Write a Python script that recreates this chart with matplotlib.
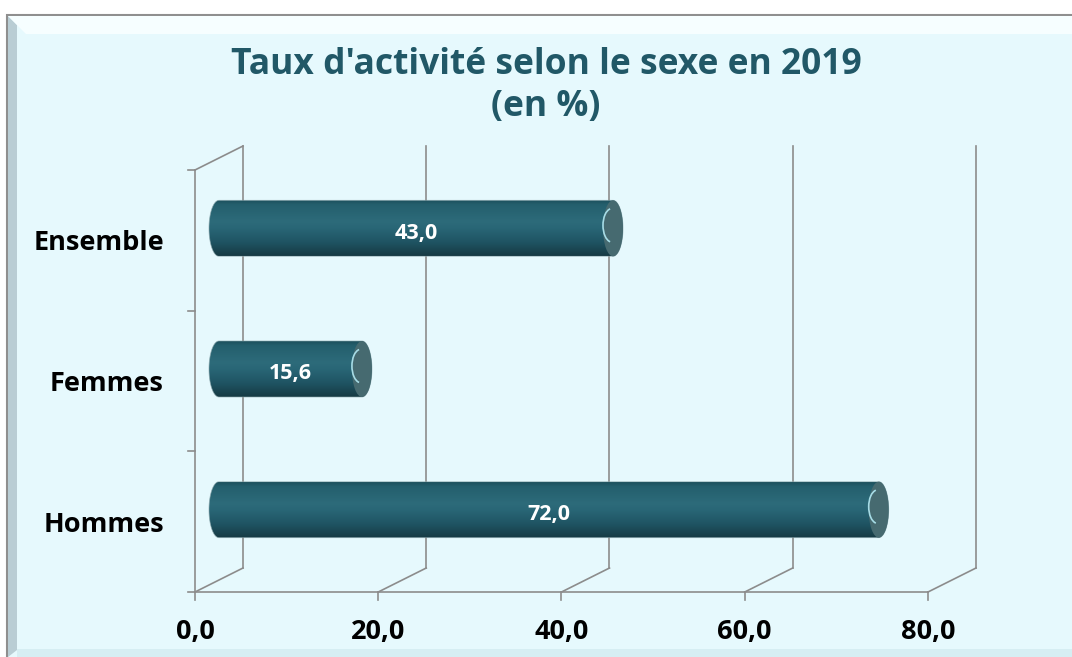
import numpy as np
import matplotlib.pyplot as plt
from matplotlib.patches import Rectangle, Ellipse, PathPatch, Arc, Polygon
from matplotlib.path import Path
from matplotlib.colors import LinearSegmentedColormap

categories = ["Hommes", "Femmes", "Ensemble"]
values = [72.0, 15.6, 43.0]
value_labels = ["72,0", "15,6", "43,0"]
x_ticks = [0, 20, 40, 60, 80]
x_tick_labels = ["0,0", "20,0", "40,0", "60,0", "80,0"]
title = "Taux d'activité selon le sexe en 2019\n(en %)"

plt.rcParams["font.family"] = ["Open Sans", "DejaVu Sans"]

W, H = 1072, 657
fig = plt.figure(figsize=(W / 100, H / 100), dpi=100)

# frame / background in pixel coords
bg = fig.add_axes([0, 0, 1, 1])
bg.set_xlim(0, W)
bg.set_ylim(H, 0)
bg.axis("off")
bg.add_patch(Rectangle((7, 15), W, H, facecolor="#e6f9fd", edgecolor="#8f8f8f", lw=1.5))
bg.add_patch(Polygon([[8, 16], [17, 25], [17, 650], [8, 657]], facecolor="#b9cdd4", lw=0))
bg.add_patch(Polygon([[8, 16], [W, 16], [W, 34], [26, 34]], facecolor="#f6feff", lw=0))
bg.add_patch(Rectangle((17, 649), W, 8, facecolor="#d6eef3", lw=0))

# plot axes: x in value units, y in category units (front plane)
sx = 733 / 80.0   # px per value unit
sy = 140.67       # px per category unit
left, right, bottom, top = 195, 983, 592, 135
ax = fig.add_axes([left / W, (H - bottom) / H, (right - left) / W, (bottom - top) / H])
ax.axis("off")
xmax = (right - left) / sx
ymax = (bottom - top) / sy

dx = 48 / sx
dy = 24 / sy
grid_c = "#8c8c8c"
lw = 1.2

# floor and walls
ax.plot([0, 80], [0, 0], color=grid_c, lw=lw, clip_on=False)
ax.plot([0, 0], [0, 3], color=grid_c, lw=lw, clip_on=False)
ax.plot([0, dx], [3, 3 + dy], color=grid_c, lw=lw, clip_on=False)
for v in x_ticks:
    ax.plot([v, v + dx], [0, dy], color=grid_c, lw=lw, clip_on=False)
    ax.plot([v + dx, v + dx], [dy, 3 + dy], color=grid_c, lw=lw, clip_on=False)
    ax.plot([v, v], [0, -8 / sy], color=grid_c, lw=lw, clip_on=False)
for k in range(4):
    ax.plot([-7 / sx, 0], [k, k], color=grid_c, lw=lw, clip_on=False)

# tick labels
for v, lab in zip(x_ticks, x_tick_labels):
    ax.text(v, -40 / sy, lab, ha="center", va="center", fontsize=19.5,
            fontweight="bold", color="black")
for i, cat in enumerate(categories):
    ax.text(-31 / sx, i + 0.5 - 3 / sy, cat, ha="right", va="center", fontsize=19.5,
            fontweight="bold", color="black")

# cylinder bars
cmap = LinearSegmentedColormap.from_list(
    "cyl", [(0, "#1c4f5c"), (0.08, "#245f6d"), (0.38, "#2d6b7a"),
            (0.5, "#296676"), (0.75, "#1f5463"), (1.0, "#163a43")])
grad = np.linspace(0, 1, 256).reshape(-1, 1)
rx = 10 / sx
ry = 28 / sy
for i, (v, lab) in enumerate(zip(values, value_labels)):
    yc = i + 0.5 + dy / 2
    x0 = dx / 2
    x1 = v + dx / 2
    t = np.linspace(-np.pi / 2, np.pi / 2, 50)
    rgt = np.column_stack([x1 + rx * np.cos(t), yc + ry * np.sin(t)])
    t2 = np.linspace(np.pi / 2, 3 * np.pi / 2, 50)
    lft = np.column_stack([x0 + rx * np.cos(t2), yc + ry * np.sin(t2)])
    verts = np.vstack([rgt, lft, rgt[:1]])
    body = PathPatch(Path(verts, closed=True), facecolor="none",
                     edgecolor="#8aa6ab", lw=0.6, alpha=0.7, zorder=4)
    ax.add_patch(body)
    im = ax.imshow(grad, cmap=cmap, aspect="auto", origin="upper",
                   extent=[x0 - rx, x1 + rx, yc - ry, yc + ry], zorder=3)
    im.set_clip_path(body)
    ax.add_patch(Ellipse((x1, yc), 2 * rx, 2 * ry, facecolor="#466a70",
                         edgecolor="none", zorder=5))
    ax.add_patch(Arc((x1 - 1 / sx, yc + 3 / sy), 2 * rx * 0.9, 2 * ry * 0.6,
                     theta1=150, theta2=210, color="#a6dce6", lw=1.2, zorder=6))
    ax.text((x0 + x1) / 2, yc - 5 / sy, lab, ha="center", va="center",
            fontsize=15.5, fontweight="bold", color="white", zorder=7)

ax.set_xlim(0, xmax)
ax.set_ylim(0, ymax)

fig.text(546 / W, 1 - 86 / H, title, ha="center", va="center", fontsize=25.5,
         fontweight="bold", color="#215867", linespacing=1.2)

fig.savefig("out.png", dpi=100)
